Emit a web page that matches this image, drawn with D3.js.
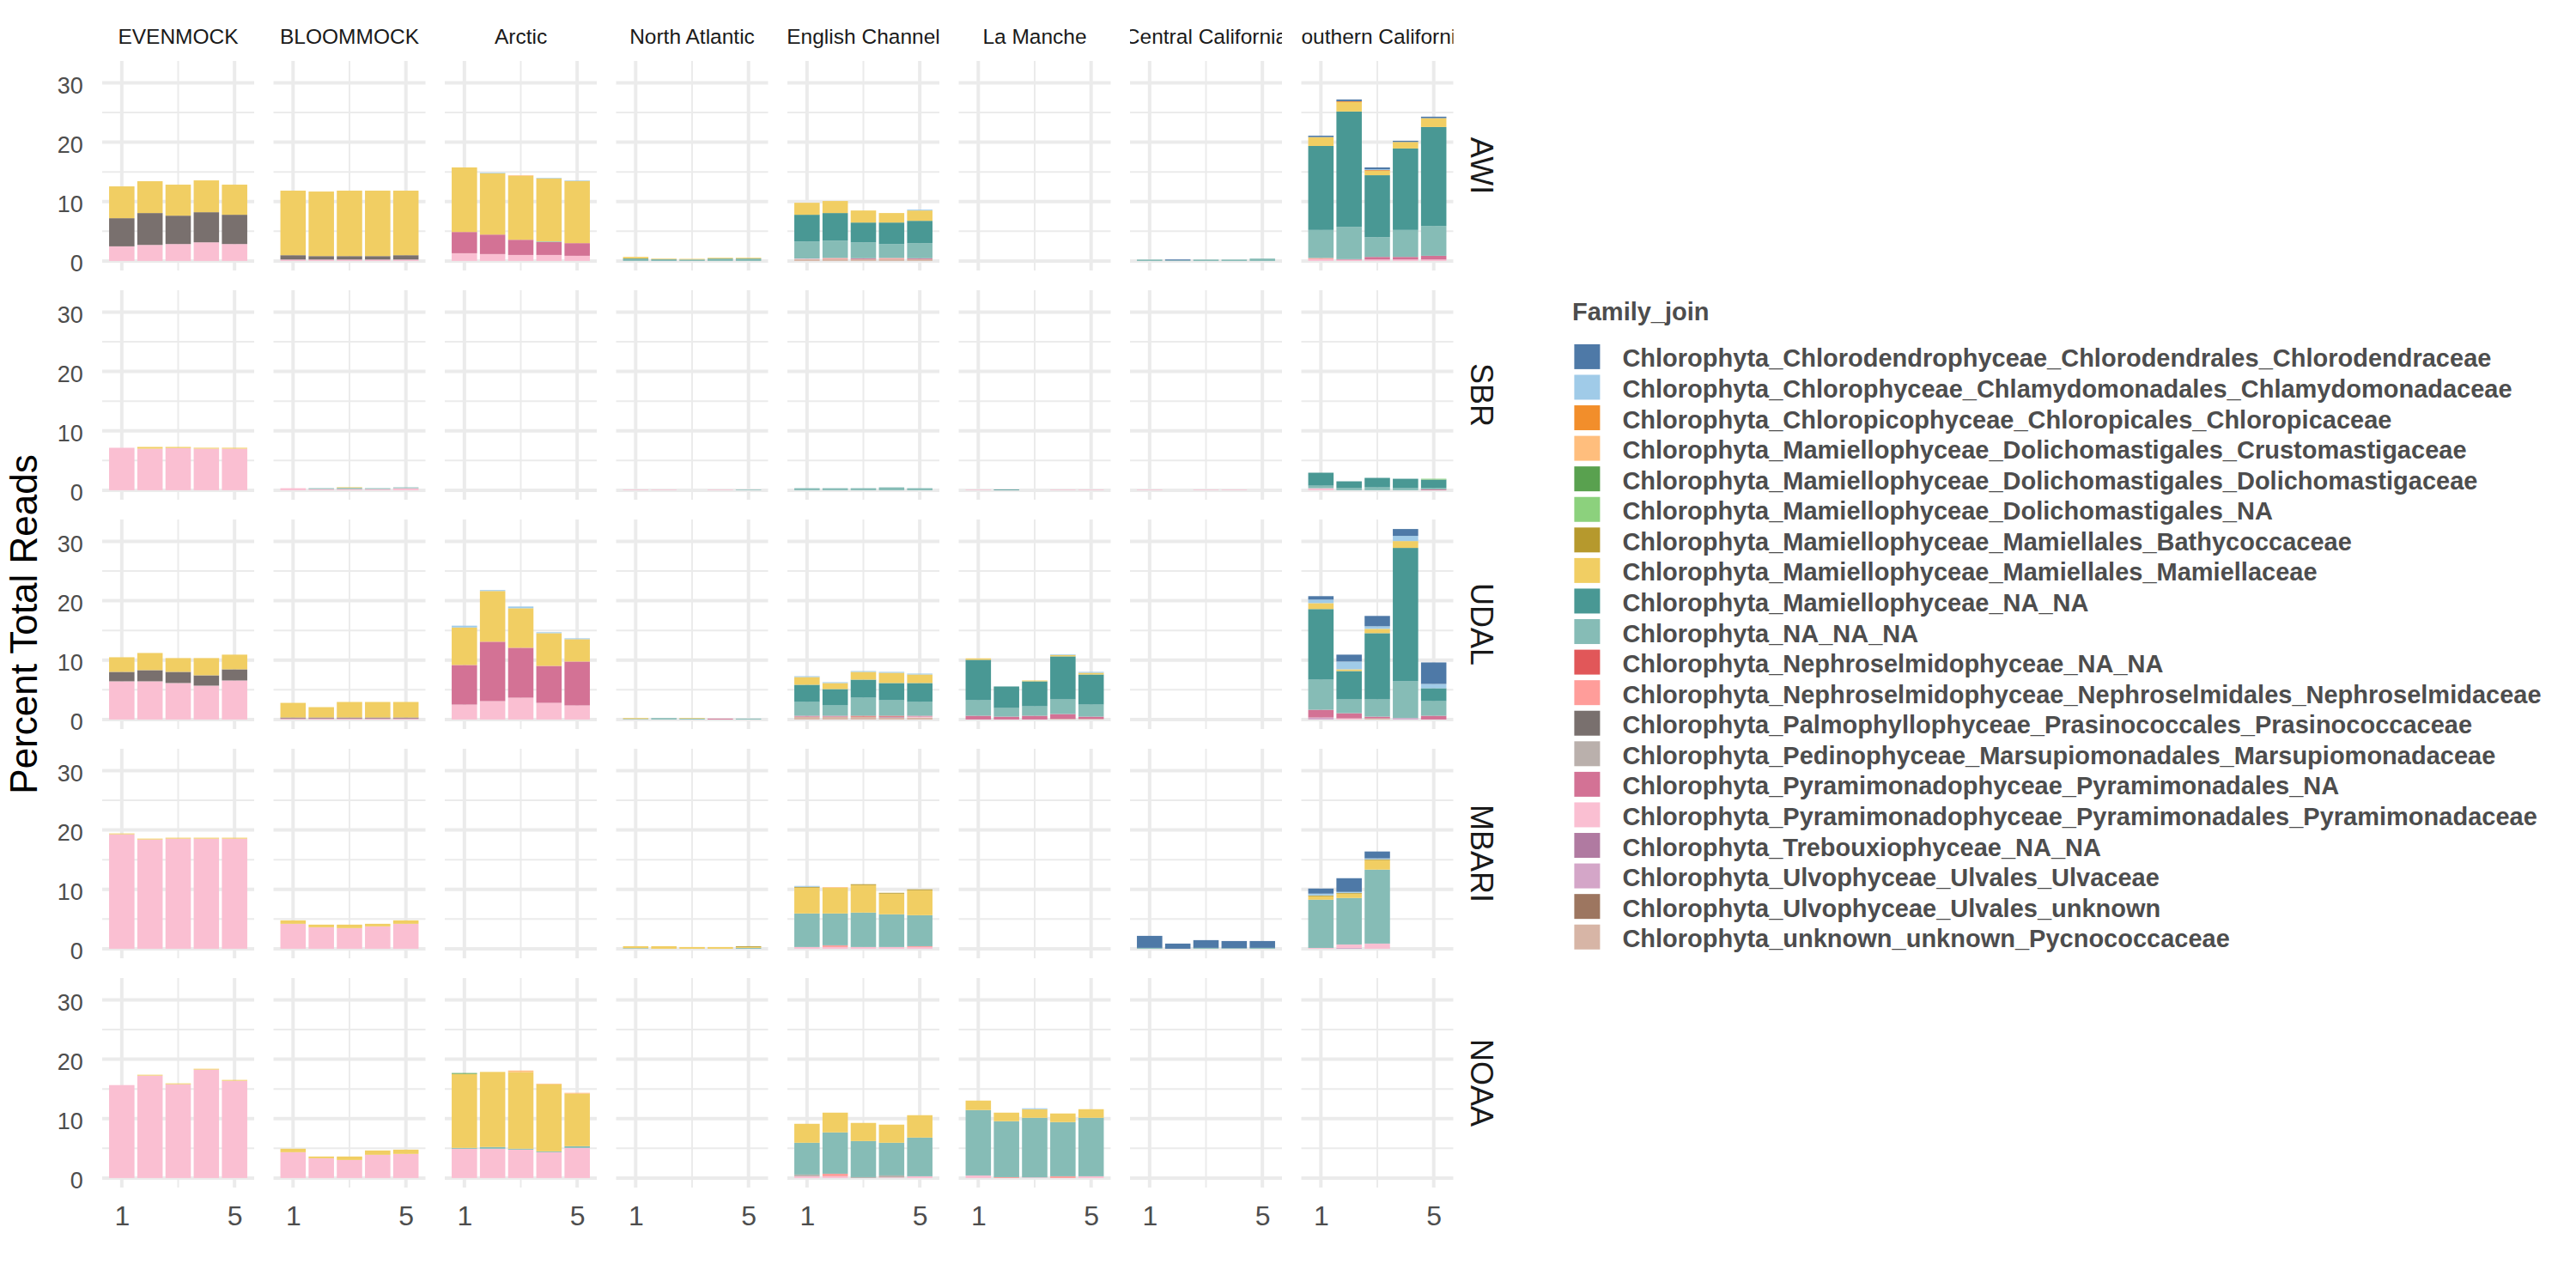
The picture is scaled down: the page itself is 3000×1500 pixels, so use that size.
<!DOCTYPE html>
<html>
<head>
<meta charset="utf-8">
<script src="https://cdn.jsdelivr.net/npm/d3@7"></script>
<style>
  html, body { margin: 0; padding: 0; background: #ffffff; }
  svg { display: block; font-family: "Liberation Sans", Arial, Helvetica, sans-serif; }
</style>
</head>
<body>
<script>
// ---------------- DATA ----------------
const sites = ["EVENMOCK", "BLOOMMOCK", "Arctic", "North Atlantic", "English Channel", "La Manche", "Central California", "Southern California"];
const labs = ["AWI", "SBR", "UDAL", "MBARI", "NOAA"];
const replicates = [1, 2, 3, 4, 5];
const xTickValues = [1, 5];
const xMinorValues = [3];
const yTickValues = [0, 10, 20, 30];
const yMinorValues = [5, 15, 25];

const familyNames = [
  "Chlorophyta_Chlorodendrophyceae_Chlorodendrales_Chlorodendraceae",
  "Chlorophyta_Chlorophyceae_Chlamydomonadales_Chlamydomonadaceae",
  "Chlorophyta_Chloropicophyceae_Chloropicales_Chloropicaceae",
  "Chlorophyta_Mamiellophyceae_Dolichomastigales_Crustomastigaceae",
  "Chlorophyta_Mamiellophyceae_Dolichomastigales_Dolichomastigaceae",
  "Chlorophyta_Mamiellophyceae_Dolichomastigales_NA",
  "Chlorophyta_Mamiellophyceae_Mamiellales_Bathycoccaceae",
  "Chlorophyta_Mamiellophyceae_Mamiellales_Mamiellaceae",
  "Chlorophyta_Mamiellophyceae_NA_NA",
  "Chlorophyta_NA_NA_NA",
  "Chlorophyta_Nephroselmidophyceae_NA_NA",
  "Chlorophyta_Nephroselmidophyceae_Nephroselmidales_Nephroselmidaceae",
  "Chlorophyta_Palmophyllophyceae_Prasinococcales_Prasinococcaceae",
  "Chlorophyta_Pedinophyceae_Marsupiomonadales_Marsupiomonadaceae",
  "Chlorophyta_Pyramimonadophyceae_Pyramimonadales_NA",
  "Chlorophyta_Pyramimonadophyceae_Pyramimonadales_Pyramimonadaceae",
  "Chlorophyta_Trebouxiophyceae_NA_NA",
  "Chlorophyta_Ulvophyceae_Ulvales_Ulvaceae",
  "Chlorophyta_Ulvophyceae_Ulvales_unknown",
  "Chlorophyta_unknown_unknown_Pycnococcaceae"
];
const familyKeys = [
  "Chlorodendraceae", "Chlamydomonadaceae", "Chloropicaceae", "Crustomastigaceae",
  "Dolichomastigaceae", "Dolichomastigales_NA", "Bathycoccaceae", "Mamiellaceae",
  "Mamiellophyceae_NA", "NA_NA_NA", "Nephroselmidophyceae_NA", "Nephroselmidaceae",
  "Prasinococcaceae", "Marsupiomonadaceae", "Pyramimonadales_NA", "Pyramimonadaceae",
  "Trebouxiophyceae_NA", "Ulvaceae", "Ulvales_unknown", "Pycnococcaceae"
];
const familyColors = [
  "#4E79A7", "#A0CBE8", "#F28E2B", "#FFBE7D", "#59A14F", "#8CD17D", "#B6992D", "#F1CE63",
  "#499894", "#86BCB6", "#E15759", "#FF9D9A", "#79706E", "#BAB0AC", "#D37295", "#FABFD2",
  "#B07AA1", "#D4A6C8", "#9D7660", "#D7B5A6"
];

// [site, family, values for replicates 1..5]
const awiValues = [
  ["EVENMOCK", "Pyramimonadaceae", [2.46, 2.70, 2.85, 3.14, 2.85]],
  ["EVENMOCK", "Prasinococcaceae", [4.74, 5.37, 4.78, 5.07, 4.93]],
  ["EVENMOCK", "Mamiellaceae", [5.36, 5.36, 5.22, 5.36, 5.07]],
  ["BLOOMMOCK", "Pyramimonadaceae", [0.24, 0.24, 0.24, 0.24, 0.24]],
  ["BLOOMMOCK", "Prasinococcaceae", [0.73, 0.58, 0.58, 0.58, 0.73]],
  ["BLOOMMOCK", "Mamiellaceae", [10.87, 10.87, 11.02, 11.02, 10.87]],
  ["Arctic", "Pyramimonadaceae", [1.30, 1.16, 1.01, 1.01, 0.87]],
  ["Arctic", "Pyramimonadales_NA", [3.58, 3.28, 2.56, 2.18, 2.13]],
  ["Arctic", "NA_NA_NA", [0, 0, 0, 0.10, 0]],
  ["Arctic", "Mamiellaceae", [10.87, 10.34, 10.77, 10.62, 10.48]],
  ["Arctic", "Crustomastigaceae", [0, 0, 0.10, 0, 0]],
  ["Arctic", "Chlamydomonadaceae", [0, 0.10, 0, 0.09, 0.09]],
  ["North Atlantic", "NA_NA_NA", [0.25, 0.20, 0.25, 0.30, 0.30]],
  ["North Atlantic", "Mamiellophyceae_NA", [0.15, 0.10, 0, 0.10, 0.10]],
  ["North Atlantic", "Mamiellaceae", [0.28, 0.10, 0.10, 0.13, 0.13]],
  ["English Channel", "Pycnococcaceae", [0.30, 0.30, 0.30, 0.30, 0.30]],
  ["English Channel", "Pyramimonadaceae", [0.10, 0, 0, 0, 0]],
  ["English Channel", "Pyramimonadales_NA", [0, 0, 0.15, 0, 0.15]],
  ["English Channel", "Nephroselmidaceae", [0, 0.20, 0, 0.20, 0]],
  ["English Channel", "NA_NA_NA", [2.89, 2.93, 2.69, 2.35, 2.55]],
  ["English Channel", "Mamiellophyceae_NA", [4.49, 4.64, 3.33, 3.62, 3.76]],
  ["English Channel", "Mamiellaceae", [2.02, 2.03, 2.03, 1.60, 1.74]],
  ["English Channel", "Chlamydomonadaceae", [0, 0, 0, 0, 0.15]],
  ["Central California", "NA_NA_NA", [0.24, 0.10, 0.24, 0.24, 0.40]],
  ["Central California", "Chlorodendraceae", [0, 0.15, 0, 0, 0]],
  ["Southern California", "Pyramimonadaceae", [0.30, 0.20, 0.25, 0.25, 0.25]],
  ["Southern California", "Pyramimonadales_NA", [0, 0.10, 0.43, 0.43, 0.62]],
  ["Southern California", "Nephroselmidaceae", [0.20, 0, 0, 0, 0]],
  ["Southern California", "NA_NA_NA", [4.72, 5.45, 3.32, 4.54, 5.02]],
  ["Southern California", "Mamiellophyceae_NA", [14.15, 19.42, 10.44, 13.72, 16.67]],
  ["Southern California", "Mamiellaceae", [1.50, 1.59, 0.73, 1.11, 1.50]],
  ["Southern California", "Chloropicaceae", [0, 0.14, 0.13, 0, 0]],
  ["Southern California", "Chlamydomonadaceae", [0, 0, 0.15, 0, 0]],
  ["Southern California", "Chlorodendraceae", [0.23, 0.30, 0.30, 0.19, 0.24]]
];

const sbrValues = [
  ["EVENMOCK", "Pyramimonadaceae", [7.15, 7.00, 7.10, 7.00, 7.00]],
  ["EVENMOCK", "Mamiellaceae", [0, 0.29, 0.19, 0.15, 0.15]],
  ["BLOOMMOCK", "Pyramimonadaceae", [0.34, 0.20, 0.20, 0.20, 0.34]],
  ["BLOOMMOCK", "NA_NA_NA", [0, 0.14, 0.20, 0.14, 0.14]],
  ["BLOOMMOCK", "Mamiellaceae", [0, 0, 0.10, 0, 0]],
  ["North Atlantic", "Pyramimonadaceae", [0.10, 0.10, 0, 0.10, 0]],
  ["North Atlantic", "NA_NA_NA", [0, 0, 0, 0, 0.10]],
  ["English Channel", "NA_NA_NA", [0.34, 0.34, 0.34, 0.48, 0.34]],
  ["La Manche", "Pyramimonadaceae", [0.10, 0, 0, 0.10, 0.10]],
  ["La Manche", "Mamiellophyceae_NA", [0, 0.12, 0, 0, 0]],
  ["Central California", "Pyramimonadaceae", [0.10, 0, 0.10, 0.10, 0]],
  ["Southern California", "Pyramimonadaceae", [0.34, 0, 0, 0, 0]],
  ["Southern California", "Pyramimonadales_NA", [0, 0, 0, 0, 0.15]],
  ["Southern California", "NA_NA_NA", [0.43, 0.34, 0.48, 0.34, 0.19]],
  ["Southern California", "Mamiellophyceae_NA", [2.18, 1.16, 1.60, 1.59, 1.45]],
  ["Southern California", "Dolichomastigales_NA", [0, 0, 0, 0, 0.14]]
];

const udalValues = [
  ["EVENMOCK", "Pyramimonadaceae", [6.43, 6.43, 6.14, 5.70, 6.57]],
  ["EVENMOCK", "Prasinococcaceae", [1.59, 1.88, 1.88, 1.74, 1.88]],
  ["EVENMOCK", "Mamiellaceae", [2.46, 2.89, 2.32, 2.90, 2.47]],
  ["BLOOMMOCK", "Pyramimonadaceae", [0.10, 0.10, 0.10, 0.10, 0.10]],
  ["BLOOMMOCK", "Pyramimonadales_NA", [0.10, 0.10, 0.10, 0.10, 0.10]],
  ["BLOOMMOCK", "Prasinococcaceae", [0.14, 0.14, 0.14, 0.14, 0.14]],
  ["BLOOMMOCK", "Mamiellaceae", [2.46, 1.74, 2.61, 2.61, 2.61]],
  ["Arctic", "Pyramimonadaceae", [2.51, 3.09, 3.67, 2.80, 2.37]],
  ["Arctic", "Pyramimonadales_NA", [6.67, 10.01, 8.41, 6.23, 7.39]],
  ["Arctic", "Mamiellaceae", [6.32, 8.54, 6.66, 5.51, 3.77]],
  ["Arctic", "Chlamydomonadaceae", [0.30, 0.16, 0.29, 0.15, 0.14]],
  ["North Atlantic", "Pyramimonadales_NA", [0, 0, 0, 0.15, 0]],
  ["North Atlantic", "NA_NA_NA", [0.10, 0.24, 0.15, 0, 0.15]],
  ["North Atlantic", "Mamiellaceae", [0.14, 0, 0.10, 0, 0]],
  ["English Channel", "Pycnococcaceae", [0.48, 0.48, 0.48, 0.34, 0.34]],
  ["English Channel", "Trebouxiophyceae_NA", [0, 0, 0, 0.14, 0]],
  ["English Channel", "Pyramimonadaceae", [0, 0, 0, 0, 0.15]],
  ["English Channel", "Pyramimonadales_NA", [0.15, 0.15, 0, 0, 0.14]],
  ["English Channel", "Nephroselmidophyceae_NA", [0, 0, 0.15, 0.15, 0]],
  ["English Channel", "NA_NA_NA", [2.32, 1.74, 3.04, 2.61, 2.32]],
  ["English Channel", "Mamiellophyceae_NA", [2.90, 2.75, 3.04, 2.90, 3.19]],
  ["English Channel", "Mamiellaceae", [1.30, 1.02, 1.31, 1.73, 1.44]],
  ["English Channel", "Chlamydomonadaceae", [0.14, 0.14, 0.14, 0.15, 0.15]],
  ["La Manche", "Pycnococcaceae", [0, 0, 0, 0.10, 0.10]],
  ["La Manche", "Pyramimonadales_NA", [0.63, 0.48, 0.63, 0.82, 0.38]],
  ["La Manche", "NA_NA_NA", [2.61, 1.45, 1.59, 2.46, 2.03]],
  ["La Manche", "Mamiellophyceae_NA", [6.81, 3.63, 4.21, 7.25, 5.07]],
  ["La Manche", "Mamiellaceae", [0.24, 0, 0.14, 0.24, 0.29]],
  ["La Manche", "Chlamydomonadaceae", [0, 0, 0, 0.10, 0.15]],
  ["Southern California", "Pycnococcaceae", [0, 0, 0.19, 0, 0]],
  ["Southern California", "Ulvaceae", [0.34, 0, 0, 0.24, 0]],
  ["Southern California", "Pyramimonadaceae", [0, 0.19, 0, 0, 0]],
  ["Southern California", "Pyramimonadales_NA", [1.30, 0.87, 0.29, 0, 0.63]],
  ["Southern California", "NA_NA_NA", [5.07, 2.32, 2.90, 6.19, 2.46]],
  ["Southern California", "Mamiellophyceae_NA", [11.89, 4.78, 11.16, 22.47, 2.18]],
  ["Southern California", "Mamiellaceae", [1.00, 0.29, 0.73, 1.15, 0]],
  ["Southern California", "Chlamydomonadaceae", [0.60, 1.31, 0.43, 0.87, 0.72]],
  ["Southern California", "Chlorodendraceae", [0.57, 1.16, 1.74, 1.16, 3.62]]
];

const mbariValues = [
  ["EVENMOCK", "Pyramimonadaceae", [19.28, 18.40, 18.55, 18.55, 18.55]],
  ["EVENMOCK", "Mamiellaceae", [0.14, 0.15, 0.15, 0.15, 0.15]],
  ["BLOOMMOCK", "Pyramimonadaceae", [4.20, 3.62, 3.48, 3.77, 4.20]],
  ["BLOOMMOCK", "Mamiellaceae", [0.58, 0.44, 0.58, 0.43, 0.58]],
  ["North Atlantic", "NA_NA_NA", [0.10, 0, 0, 0, 0.15]],
  ["North Atlantic", "Mamiellaceae", [0.33, 0.43, 0.29, 0.29, 0.15]],
  ["North Atlantic", "Bathycoccaceae", [0, 0, 0, 0, 0.13]],
  ["English Channel", "Pyramimonadaceae", [0.29, 0.29, 0.29, 0.29, 0.29]],
  ["English Channel", "Nephroselmidaceae", [0, 0.29, 0, 0, 0.14]],
  ["English Channel", "NA_NA_NA", [5.65, 5.36, 5.80, 5.51, 5.22]],
  ["English Channel", "Mamiellaceae", [4.35, 4.35, 4.63, 3.48, 4.21]],
  ["English Channel", "Bathycoccaceae", [0.14, 0, 0.15, 0.14, 0.14]],
  ["English Channel", "Crustomastigaceae", [0, 0.10, 0, 0, 0]],
  ["English Channel", "Chlamydomonadaceae", [0.15, 0, 0, 0, 0]],
  ["Central California", "NA_NA_NA", [0.15, 0, 0.15, 0.10, 0.15]],
  ["Central California", "Chlorodendraceae", [2.02, 0.87, 1.30, 1.20, 1.15]],
  ["Southern California", "Ulvaceae", [0, 0.14, 0, 0, 0]],
  ["Southern California", "Pyramimonadaceae", [0.14, 0.58, 0.87, 0, 0]],
  ["Southern California", "NA_NA_NA", [8.12, 7.83, 12.46, 0, 0]],
  ["Southern California", "Mamiellaceae", [0.58, 0.73, 1.60, 0, 0]],
  ["Southern California", "Bathycoccaceae", [0.15, 0.14, 0.14, 0, 0]],
  ["Southern California", "Chlamydomonadaceae", [0.29, 0.15, 0.15, 0, 0]],
  ["Southern California", "Chlorodendraceae", [0.86, 2.31, 1.16, 0, 0]]
];

const noaaValues = [
  ["EVENMOCK", "Pyramimonadaceae", [15.65, 17.25, 15.80, 18.26, 16.38]],
  ["EVENMOCK", "Mamiellaceae", [0, 0.14, 0.14, 0.14, 0.14]],
  ["BLOOMMOCK", "Pyramimonadaceae", [4.35, 3.33, 3.04, 3.91, 4.06]],
  ["BLOOMMOCK", "Mamiellaceae", [0.58, 0.29, 0.58, 0.73, 0.72]],
  ["Arctic", "Pyramimonadaceae", [4.93, 4.93, 4.78, 4.35, 5.07]],
  ["Arctic", "NA_NA_NA", [0.14, 0.29, 0.15, 0.14, 0.29]],
  ["Arctic", "Mamiellaceae", [12.47, 12.65, 12.90, 11.31, 8.84]],
  ["Arctic", "Dolichomastigaceae", [0.14, 0, 0, 0, 0]],
  ["Arctic", "Crustomastigaceae", [0, 0, 0.27, 0.10, 0.15]],
  ["English Channel", "Pyramimonadaceae", [0.29, 0.29, 0, 0.10, 0.29]],
  ["English Channel", "Marsupiomonadaceae", [0.29, 0, 0.14, 0.33, 0]],
  ["English Channel", "Nephroselmidaceae", [0, 0.43, 0, 0, 0]],
  ["English Channel", "NA_NA_NA", [5.36, 6.96, 6.09, 5.51, 6.52]],
  ["English Channel", "Mamiellaceae", [3.19, 3.33, 3.05, 3.05, 3.77]],
  ["La Manche", "Pyramimonadaceae", [0.43, 0, 0.10, 0, 0.29]],
  ["La Manche", "Nephroselmidaceae", [0, 0.14, 0, 0.29, 0]],
  ["La Manche", "NA_NA_NA", [11.02, 9.43, 10.04, 9.13, 9.85]],
  ["La Manche", "Mamiellaceae", [1.59, 1.44, 1.45, 1.45, 1.45]],
  ["La Manche", "Chlamydomonadaceae", [0, 0, 0.15, 0, 0]]
];

const valuesByLab = { AWI: awiValues, SBR: sbrValues, UDAL: udalValues, MBARI: mbariValues, NOAA: noaaValues };

// ---------------- LAYOUT ----------------
const W = 3000, H = 1500;
const panelLeft0 = 119, colStep = 199.5, panelW = 177;
const panelTop0 = 71, rowStep = 267, panelH = 244;

const svg = d3.select("body").append("svg").attr("width", W).attr("height", H);
svg.append("rect").attr("width", W).attr("height", H).attr("fill", "#ffffff");

// build per-panel tables
function panelTable(lab, site) {
  const rows = replicates.map(r => {
    const o = { rep: r };
    familyKeys.forEach(k => o[k] = 0);
    return o;
  });
  valuesByLab[lab].filter(d => d[0] === site).forEach(d => {
    d[2].forEach((v, i) => rows[i][d[1]] += v);
  });
  return rows;
}

const stackKeys = familyKeys.slice().reverse(); // last level at bottom
const stack = d3.stack().keys(stackKeys);
const colorOf = d3.scaleOrdinal().domain(familyKeys).range(familyColors);

let maxTotal = 0;
const tables = {};
labs.forEach(lab => sites.forEach(site => {
  const t = panelTable(lab, site);
  tables[lab + "|" + site] = t;
  t.forEach(row => { maxTotal = Math.max(maxTotal, d3.sum(familyKeys, k => row[k])); });
}));

const x = d3.scaleLinear().domain([0.55 - 0.245, 5.45 + 0.245]).range([0, panelW]);
const y = d3.scaleLinear().domain([-0.05 * maxTotal, 1.05 * maxTotal]).range([panelH, 0]);

const gridColor = "#EBEBEB";

labs.forEach((lab, ri) => {
  sites.forEach((site, ci) => {
    const left = panelLeft0 + colStep * ci;
    const top = panelTop0 + rowStep * ri;
    const g = svg.append("g").attr("transform", `translate(${left},${top})`);

    // minor grid
    g.selectAll(".ymin").data(yMinorValues).join("line")
      .attr("x1", 0).attr("x2", panelW).attr("y1", d => y(d)).attr("y2", d => y(d))
      .attr("stroke", gridColor).attr("stroke-width", 2);
    g.selectAll(".xmin").data(xMinorValues).join("line")
      .attr("y1", 0).attr("y2", panelH).attr("x1", d => x(d)).attr("x2", d => x(d))
      .attr("stroke", gridColor).attr("stroke-width", 2);
    // major grid
    g.selectAll(".ymaj").data(yTickValues).join("line")
      .attr("x1", 0).attr("x2", panelW).attr("y1", d => y(d)).attr("y2", d => y(d))
      .attr("stroke", gridColor).attr("stroke-width", 4);
    g.selectAll(".xmaj").data(xTickValues).join("line")
      .attr("y1", 0).attr("y2", panelH).attr("x1", d => x(d)).attr("x2", d => x(d))
      .attr("stroke", gridColor).attr("stroke-width", 4);

    // bars
    const series = stack(tables[lab + "|" + site]);
    series.forEach(s => {
      g.append("g").attr("fill", colorOf(s.key))
        .selectAll("rect")
        .data(s.filter(d => d[1] - d[0] > 0))
        .join("rect")
        .attr("x", d => x(d.data.rep - 0.45))
        .attr("width", d => x(d.data.rep + 0.45) - x(d.data.rep - 0.45))
        .attr("y", d => y(d[1]))
        .attr("height", d => y(d[0]) - y(d[1]));
    });

    // y axis (first column)
    if (ci === 0) {
      const ax = g.append("g").call(d3.axisLeft(y).tickValues(yTickValues).tickSize(0).tickPadding(22.3));
      ax.select(".domain").remove();
      ax.selectAll("text").attr("font-size", 27).attr("fill", "#4D4D4D")
        .attr("font-family", "'Liberation Sans', Arial, sans-serif").attr("dy", "0.43em");
    }
    // x axis (last row)
    if (ri === labs.length - 1) {
      const ax = g.append("g").attr("transform", `translate(0,${panelH})`)
        .call(d3.axisBottom(x).tickValues(xTickValues).tickSize(0).tickPadding(21.6).tickFormat(d3.format("d")));
      ax.select(".domain").remove();
      ax.selectAll("text").attr("font-size", 32).attr("fill", "#4D4D4D")
        .attr("font-family", "'Liberation Sans', Arial, sans-serif");
    }
  });
});

// top strips
const defs = svg.append("defs");
sites.forEach((site, ci) => {
  const left = panelLeft0 + colStep * ci;
  defs.append("clipPath").attr("id", "strip" + ci)
    .append("rect").attr("x", left).attr("y", 0).attr("width", panelW).attr("height", 70);
  svg.append("text")
    .attr("clip-path", `url(#strip${ci})`)
    .attr("x", left + panelW / 2).attr("y", 50.7)
    .attr("text-anchor", "middle").attr("font-size", 24.5).attr("fill", "#1A1A1A")
    .text(site);
});

// right strips
labs.forEach((lab, ri) => {
  const cy = panelTop0 + rowStep * ri + panelH / 2;
  svg.append("text")
    .attr("transform", `translate(1713.3,${cy}) rotate(90)`)
    .attr("text-anchor", "middle").attr("font-size", 36).attr("fill", "#1A1A1A")
    .text(lab);
});

// y title
svg.append("text")
  .attr("transform", `translate(43.3,${panelTop0 + (rowStep * (labs.length - 1) + panelH) / 2}) rotate(-90)`)
  .attr("text-anchor", "middle").attr("font-size", 44).attr("fill", "#000000")
  .text("Percent Total Reads");

// legend
const lg = svg.append("g");
lg.append("text").attr("x", 1831).attr("y", 373)
  .attr("font-size", 29).attr("font-weight", "bold").attr("fill", "#4D4D4D")
  .text("Family_join");
const items = lg.selectAll(".item").data(familyKeys).join("g")
  .attr("transform", (d, i) => `translate(1833.4,${400.9 + 35.57 * i})`);
items.append("rect").attr("width", 30).attr("height", 29).attr("fill", d => colorOf(d));
items.append("text").attr("x", 56).attr("y", 26.5)
  .attr("font-size", 29).attr("font-weight", "bold").attr("fill", "#4D4D4D")
  .text((d, i) => familyNames[i]);
</script>
</body>
</html>
